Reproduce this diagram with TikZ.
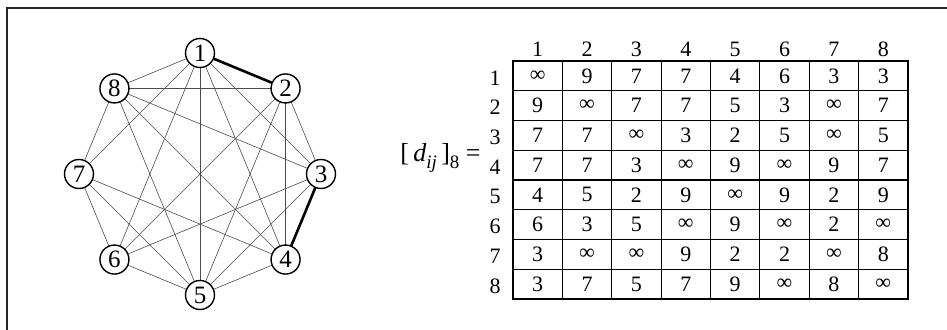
\documentclass[tikz,border=0pt]{standalone}
\usepackage{fontspec}
\setmainfont{Liberation Serif}
\usepackage{tikz}
\usetikzlibrary{positioning,calc}

\begin{document}
\begin{tikzpicture}[
  x=0.5pt,y=-0.5pt,
  vtx/.style={draw,circle,line width=0.7pt,minimum size=14.5pt,inner sep=0pt,fill=white,font=\fontsize{12.5}{14}\selectfont},
  edge/.style={line width=0.3pt,black!70},
  sel/.style={line width=1.3pt},
  cell/.style={draw,line width=0.6pt,minimum width=24.7pt,minimum height=14.9pt,inner sep=0pt,font=\fontsize{11}{13}\selectfont},
  lab/.style={inner sep=0pt,font=\fontsize{11}{13}\selectfont}
]
\useasboundingbox (0,0) rectangle (947,330);
% frame
\draw[line width=0.9pt,black!85] (947,8) -- (7,8) -- (7,330);

% graph
\foreach \i in {1,...,8}
  \coordinate (p\i) at ($(200,174)+({-90+45*(\i-1)}:121)$);
\foreach \a/\b in {1/3,1/4,1/5,1/6,1/7,1/8,2/4,2/5,2/6,2/8,3/5,3/6,3/8,4/5,4/7,4/8,5/6,5/7,5/8,6/7,7/8}
  \draw[edge] (p\a) -- (p\b);
\draw[sel] (p1) -- (p2);
\draw[sel] (p3) -- (p4);
\draw[edge] (p2) -- (p3);
\foreach \i in {1,...,8}
  \node[vtx] (v\i) at (p\i) {\i};

% distance matrix
\node[lab,anchor=east,font=\fontsize{13}{15}\selectfont] (dlab) at (481,158) {[\,\textit{d}\raisebox{-0.6ex}{\fontsize{9.5}{11}\selectfont\textit{ij}}\,]\raisebox{-0.6ex}{\fontsize{9.5}{11}\selectfont 8} =};
\foreach \row [count=\i] in {
  {∞,9,7,7,4,6,3,3},
  {9,∞,7,7,5,3,∞,7},
  {7,7,∞,3,2,5,∞,5},
  {7,7,3,∞,9,∞,9,7},
  {4,5,2,9,∞,9,2,9},
  {6,3,5,∞,9,∞,2,∞},
  {3,∞,∞,9,2,2,∞,8},
  {3,7,5,7,9,∞,8,∞}} {
  \node[lab] (r\i) at (495,{61+29.75*(\i-0.5)+2}) {\i};
  \foreach \v [count=\j] in \row
    \node[cell] (m-\i-\j) at ({513+49.375*(\j-0.5)},{61+29.75*(\i-0.5)}) {\v};
}
\foreach \j in {1,...,8}
  \node[lab] (h\j) at ({513+49.375*(\j-0.5)},49) {\j};
\end{tikzpicture}
\end{document}
